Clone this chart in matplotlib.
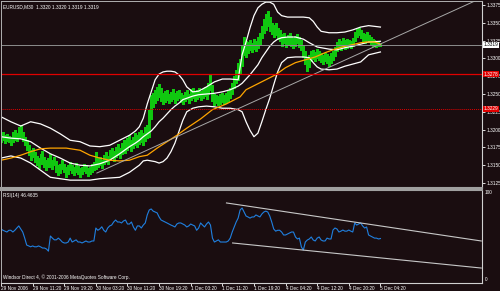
import matplotlib
matplotlib.use("Agg")
import matplotlib.pyplot as plt

BG = '#1a0d10'
plt.rcParams['font.family'] = ['Liberation Sans Narrow', 'Liberation Sans', 'DejaVu Sans']

# --- price bars (EURUSD M30), low / high per bar ---
lows = [1.3183, 1.3185, 1.3181, 1.3184, 1.3182, 1.3179, 1.3183, 1.3186, 1.3184, 1.3188,
        1.3190, 1.3184, 1.3178, 1.3172, 1.3165, 1.3158, 1.3162, 1.3155, 1.3150, 1.3146,
        1.3152, 1.3157, 1.3148, 1.3143, 1.3147, 1.3148, 1.3144, 1.3150, 1.3141, 1.3136,
        1.3139, 1.3145, 1.3140, 1.3134, 1.3138, 1.3143, 1.3139, 1.3136, 1.3141, 1.3137,
        1.3134, 1.3138, 1.3142, 1.3139, 1.3135, 1.3137, 1.3140, 1.3143, 1.3145, 1.3148,
        1.3150, 1.3146, 1.3152, 1.3155, 1.3151, 1.3157, 1.3160, 1.3156, 1.3162, 1.3165,
        1.3160, 1.3166, 1.3170, 1.3167, 1.3172, 1.3175, 1.3170, 1.3174, 1.3178, 1.3176,
        1.3180, 1.3183, 1.3178, 1.3184, 1.3188, 1.3190, 1.3215, 1.3232, 1.3238, 1.3242,
        1.3246, 1.3240, 1.3236, 1.3239, 1.3242, 1.3237, 1.3240, 1.3243, 1.3238, 1.3241,
        1.3244, 1.3239, 1.3236, 1.3240, 1.3243, 1.3238, 1.3242, 1.3245, 1.3240, 1.3243,
        1.3246, 1.3241, 1.3244, 1.3247, 1.3243, 1.3250, 1.3255, 1.3240, 1.3235, 1.3237,
        1.3234, 1.3236, 1.3239, 1.3236, 1.3238, 1.3240, 1.3244, 1.3250, 1.3258, 1.3265,
        1.3270, 1.3278, 1.3290, 1.3305, 1.3302, 1.3308, 1.3312, 1.3309, 1.3313, 1.3310,
        1.3315, 1.3320, 1.3328, 1.3335, 1.3340, 1.3345, 1.3338, 1.3334, 1.3330, 1.3333,
        1.3327, 1.3324, 1.3318, 1.3321, 1.3316, 1.3319, 1.3322, 1.3317, 1.3314, 1.3318,
        1.3321, 1.3316, 1.3312, 1.3302, 1.3292, 1.3282, 1.3288, 1.3296, 1.3299, 1.3297,
        1.3300, 1.3298, 1.3295, 1.3292, 1.3296, 1.3293, 1.3290, 1.3294, 1.3298, 1.3303,
        1.3310, 1.3314, 1.3312, 1.3316, 1.3313, 1.3315, 1.3317, 1.3315, 1.3318, 1.3325,
        1.3330, 1.3333, 1.3329, 1.3324, 1.3322, 1.3326, 1.3323, 1.3320, 1.3317, 1.3319,
        1.3316, 1.3318, 1.3318]
highs = [1.3195, 1.3197, 1.3192, 1.3194, 1.3191, 1.3190, 1.3196, 1.3199, 1.3195, 1.3204,
         1.3206, 1.3197, 1.3190, 1.3185, 1.3178, 1.3171, 1.3174, 1.3168, 1.3163, 1.3160,
         1.3166, 1.3170, 1.3162, 1.3157, 1.3160, 1.3166, 1.3158, 1.3162, 1.3156, 1.3150,
         1.3152, 1.3157, 1.3151, 1.3148, 1.3150, 1.3155, 1.3150, 1.3147, 1.3153, 1.3149,
         1.3146, 1.3148, 1.3152, 1.3150, 1.3146, 1.3148, 1.3151, 1.3155, 1.3169, 1.3160,
         1.3162, 1.3158, 1.3165, 1.3168, 1.3163, 1.3171, 1.3174, 1.3170, 1.3176, 1.3180,
         1.3174, 1.3181, 1.3185, 1.3183, 1.3188, 1.3192, 1.3186, 1.3190, 1.3195, 1.3192,
         1.3197, 1.3200, 1.3195, 1.3203, 1.3206, 1.3228, 1.3249, 1.3252, 1.3256, 1.3260,
         1.3264, 1.3258, 1.3252, 1.3254, 1.3256, 1.3250, 1.3253, 1.3257, 1.3251, 1.3254,
         1.3256, 1.3252, 1.3249, 1.3253, 1.3255, 1.3250, 1.3257, 1.3259, 1.3254, 1.3256,
         1.3258, 1.3254, 1.3257, 1.3260, 1.3256, 1.3266, 1.3277, 1.3262, 1.3250, 1.3249,
         1.3247, 1.3250, 1.3252, 1.3249, 1.3251, 1.3254, 1.3258, 1.3266, 1.3275, 1.3284,
         1.3293, 1.3299, 1.3318, 1.3330, 1.3325, 1.3323, 1.3326, 1.3322, 1.3327, 1.3324,
         1.3330, 1.3336, 1.3346, 1.3355, 1.3362, 1.3366, 1.3358, 1.3350, 1.3347, 1.3350,
         1.3343, 1.3340, 1.3334, 1.3336, 1.3330, 1.3333, 1.3335, 1.3331, 1.3328, 1.3332,
         1.3334, 1.3330, 1.3326, 1.3318, 1.3310, 1.3302, 1.3305, 1.3310, 1.3312, 1.3309,
         1.3313, 1.3310, 1.3307, 1.3305, 1.3308, 1.3306, 1.3303, 1.3307, 1.3311, 1.3316,
         1.3323, 1.3327, 1.3325, 1.3329, 1.3326, 1.3327, 1.3326, 1.3324, 1.3328, 1.3337,
         1.3341, 1.3343, 1.3340, 1.3336, 1.3334, 1.3337, 1.3333, 1.3330, 1.3327, 1.3326,
         1.3324, 1.3325, 1.3320]

# --- Bollinger bands, read at these bars ---
band_bars = [0, 5, 10, 15, 20, 25, 30, 35, 40, 45, 50, 55, 60, 65, 68, 70, 72, 74, 76, 78,
             80, 82, 84, 86, 88, 90, 92, 94, 97, 100, 104, 108, 112, 116, 120, 122, 124, 126, 128, 130,
             132, 134, 136, 138, 140, 142, 145, 149, 153, 156, 158, 160, 162, 166, 170, 174, 178, 182, 186, 192]
bb_upper = [1.3218, 1.3211, 1.3205, 1.3211, 1.3208, 1.3202, 1.3194, 1.3185, 1.3183, 1.3177,
            1.3176, 1.3178, 1.3185, 1.3192, 1.3198, 1.3204, 1.3216, 1.3236, 1.3253, 1.3270,
            1.3278, 1.3281, 1.3282, 1.3282, 1.3281, 1.3277, 1.3270, 1.3260, 1.3253, 1.3254,
            1.3260, 1.3267, 1.3271, 1.3271, 1.3270, 1.3305, 1.3323, 1.3343, 1.3360, 1.3371,
            1.3376, 1.3379, 1.3379, 1.3376, 1.3365, 1.3360, 1.3358, 1.3358, 1.3358, 1.3357,
            1.3352, 1.3344, 1.3338, 1.3336, 1.3336, 1.3337, 1.3340, 1.3344, 1.3346, 1.3344]
bb_middle = [1.3190, 1.3188, 1.3187, 1.3183, 1.3174, 1.3166, 1.3160, 1.3153, 1.3150, 1.3149,
             1.3152, 1.3157, 1.3166, 1.3176, 1.3181, 1.3185, 1.3190, 1.3194, 1.3198, 1.3204,
             1.3211, 1.3216, 1.3222, 1.3228, 1.3233, 1.3237, 1.3242, 1.3244, 1.3247, 1.3249,
             1.3250, 1.3251, 1.3253, 1.3256, 1.3261, 1.3265, 1.3271, 1.3277, 1.3284, 1.3291,
             1.3301, 1.3309, 1.3317, 1.3323, 1.3327, 1.3329, 1.3330, 1.3330, 1.3327, 1.3322,
             1.3319, 1.3316, 1.3315, 1.3313, 1.3312, 1.3315, 1.3317, 1.3320, 1.3323, 1.3324]
bb_lower = [1.3160, 1.3163, 1.3160, 1.3153, 1.3143, 1.3133, 1.3131, 1.3129, 1.3129, 1.3129,
            1.3131, 1.3132, 1.3133, 1.3140, 1.3146, 1.3150, 1.3156, 1.3157, 1.3156, 1.3155,
            1.3153, 1.3155, 1.3160, 1.3169, 1.3181, 1.3197, 1.3213, 1.3225, 1.3230, 1.3232,
            1.3233, 1.3232, 1.3230, 1.3230, 1.3228, 1.3225, 1.3211, 1.3199, 1.3190, 1.3195,
            1.3211, 1.3228, 1.3244, 1.3263, 1.3281, 1.3294, 1.3301, 1.3302, 1.3302, 1.3301,
            1.3294, 1.3288, 1.3285, 1.3284, 1.3285, 1.3289, 1.3292, 1.3295, 1.3305, 1.3309]

# --- orange moving average ---
ma_bars = [0, 5, 10, 15, 20, 25, 33, 40, 45, 50, 55, 60, 65, 70, 74, 79, 84, 89, 94, 101,
           107, 114, 121, 124, 129, 134, 139, 144, 149, 154, 159, 164, 169, 174, 179, 182, 185, 189, 192]
ma_values = [1.3157, 1.3160, 1.3164, 1.3169, 1.3173, 1.3174, 1.3174, 1.3171, 1.3164, 1.3160,
             1.3157, 1.3156, 1.3157, 1.3162, 1.3164, 1.3174, 1.3183, 1.3192, 1.3202, 1.3215,
             1.3228, 1.3236, 1.3246, 1.3256, 1.3263, 1.3270, 1.3277, 1.3287, 1.3294, 1.3298,
             1.3302, 1.3308, 1.3313, 1.3317, 1.3320, 1.3322, 1.3323, 1.3323, 1.3320]

# --- RSI(14), one value per bar ---
rsi = [57.5, 56, 55, 54, 56, 56, 54, 56, 58.6, 61,
       57.5, 54, 47, 39, 38, 37, 38, 37, 37, 38,
       37, 35.6, 35.6, 34.5, 32, 49.4, 47, 45, 45, 47,
       45, 42.5, 41.4, 41.4, 42.5, 47, 42.5, 43.7, 45, 42.5,
       42.5, 41.4, 42.5, 43.7, 42.5, 42.5, 43.7, 43.7, 58.6, 56,
       57.5, 60, 56, 54, 58.6, 61, 62, 65.5, 67.8, 65.5,
       65.5, 64.4, 66.7, 67.8, 63.2, 63.2, 65.5, 59.8, 56, 61,
       61, 58.6, 62, 64.4, 73.6, 79.3, 80.5, 78, 77, 76,
       71.3, 67.8, 66.7, 65.5, 64.4, 63.2, 62, 61, 59.8, 63.2,
       64.4, 64.4, 63.2, 62, 59.8, 61, 63.2, 62, 61, 56,
       58.6, 64.4, 62, 59.8, 63.2, 65.5, 62, 47, 42.5, 43.7,
       45, 42.5, 42.5, 42.5, 42.5, 43.7, 47, 54, 59.8, 65.5,
       70, 79.3, 81.6, 77, 72.4, 71.3, 70, 71.3, 71.3, 73.6,
       72.4, 71.3, 74.7, 77, 78, 77, 72.4, 65.5, 57.5, 55,
       56, 56, 54, 50.6, 50.6, 51.7, 52.9, 54, 54, 48.3,
       46, 47, 36.8, 33.3, 42.5, 44.8, 46, 48.3, 44.8, 43.7,
       47, 48.3, 44.8, 43.7, 43.7, 47, 46, 46, 56.3, 58.6,
       57.5, 54, 55, 56.3, 55, 55, 56.3, 55, 54, 64.4,
       62, 63.2, 64.4, 61, 58.6, 59.8, 50.6, 49.4, 48.3, 47,
       47, 46, 46.5]

# hand drawn lines: (bar, value) end points
price_trend_bars = [48.5, 240.9]
price_trend_values = [1.3139, 1.3382]
rsi_upper_bars = [114.1, 243.0]
rsi_upper_values = [87.4, 43.7]
rsi_lower_bars = [117.2, 243.0]
rsi_lower_values = [41.4, 12.6]

bid_price = 1.3319
red_level = 1.3278
red_dotted_level = 1.3229

price_ticks = [1.3125, 1.3150, 1.3175, 1.3200, 1.3225, 1.3250, 1.3275, 1.3300, 1.3325, 1.3350, 1.3375]
time_ticks = [0, 16, 32, 48, 64, 80, 96, 112, 128, 144, 160, 176, 192]
time_labels = ['29 Nov 2006', '29 Nov 11:20', '29 Nov 19:20', '30 Nov 03:20', '30 Nov 11:20',
               '30 Nov 19:20', '1 Dec 03:20', '1 Dec 11:20', '1 Dec 19:20', '4 Dec 04:20',
               '4 Dec 12:20', '4 Dec 20:20', '5 Dec 04:20']

FS = 3.4
fig = plt.figure(figsize=(5, 2.91), dpi=100, facecolor=BG)
ax = fig.add_axes([0.002, 0.354, 0.962, 0.6426], facecolor=BG)
ax2 = fig.add_axes([0.002, 0.0275, 0.962, 0.3196], facecolor=BG)

bars = list(range(len(lows)))
ax.vlines(bars, lows, highs, color='#10c810', lw=0.75, antialiased=False)
ax.plot(band_bars, bb_upper, color='white', lw=0.9)
ax.plot(band_bars, bb_middle, color='white', lw=0.9)
ax.plot(band_bars, bb_lower, color='white', lw=0.9)
ax.plot(ma_bars, ma_values, color='#ffa500', lw=0.9)
ax.plot(price_trend_bars, price_trend_values, color='#a8a8a8', lw=0.7)
ax.axhline(bid_price, color='#8c8c8c', lw=0.7)
ax.axhline(red_level, color='#e00000', lw=0.9)
ax.axhline(red_dotted_level, color='#e00000', lw=0.7, ls=(0, (1, 1)))

ax.set_xlim(0, 243.4)
ax.set_ylim(1.31180, 1.33806)
ax.set_xticks([])
ax.yaxis.tick_right()
ax.set_yticks(price_ticks)
ax.set_yticklabels(['%.4f' % p for p in price_ticks])
ax.tick_params(axis='y', colors='white', labelsize=FS, length=2, width=0.6, pad=1)

for lvl, face, txt in [(bid_price, 'white', 'black'), (red_level, '#e00000', 'white'),
                       (red_dotted_level, '#e00000', 'white')]:
    ax.text(1.004, lvl, '%.4f' % lvl, transform=ax.get_yaxis_transform(), fontsize=FS,
            color=txt, va='center', ha='left', clip_on=False, zorder=10,
            bbox=dict(facecolor=face, edgecolor='none', pad=0.4))

ax.text(0.004, 0.985, 'EURUSD,M30  1.3320 1.3320 1.3319 1.3319', transform=ax.transAxes,
        fontsize=FS, color='white', va='top', ha='left')

for s in ['top', 'left']:
    ax.spines[s].set_color('#b0b0b0')
    ax.spines[s].set_linewidth(0.7)
ax.spines['right'].set_color('#d0d0d0')
ax.spines['right'].set_linewidth(0.8)
ax.spines['bottom'].set_color('#a0a0a0')
ax.spines['bottom'].set_linewidth(1.5)

# RSI panel
ax2.plot(bars, rsi, color='#2080e0', lw=0.8)
ax2.plot(rsi_upper_bars, rsi_upper_values, color='#c8c8c8', lw=0.8)
ax2.plot(rsi_lower_bars, rsi_lower_values, color='#c8c8c8', lw=0.8)
ax2.set_xlim(0, 243.4)
ax2.set_ylim(-4.6, 102.3)
ax2.yaxis.tick_right()
ax2.set_yticks([0, 100])
ax2.set_yticklabels(['0', '100'])
ax2.tick_params(axis='y', colors='white', labelsize=FS, length=0, pad=2)
ax2.set_xticks(time_ticks)
ax2.set_xticklabels(time_labels, ha='left')
ax2.tick_params(axis='x', colors='white', labelsize=FS, length=2, width=0.6, pad=0.5)
ax2.text(0.004, 0.97, 'RSI(14) 46.4635', transform=ax2.transAxes, fontsize=FS,
         color='white', va='top', ha='left')
ax2.text(0.004, 0.03, 'Windsor Direct 4, \u00a9 2001-2006 MetaQuotes Software Corp.',
         transform=ax2.transAxes, fontsize=FS, color='white', va='bottom', ha='left')
ax2.spines['top'].set_color('#a0a0a0')
ax2.spines['top'].set_linewidth(1.5)
ax2.spines['left'].set_color('#b0b0b0')
ax2.spines['left'].set_linewidth(0.7)
for s in ['right', 'bottom']:
    ax2.spines[s].set_color('#d0d0d0')
    ax2.spines[s].set_linewidth(0.8)

fig.savefig('out.png', dpi=100, facecolor=BG)
